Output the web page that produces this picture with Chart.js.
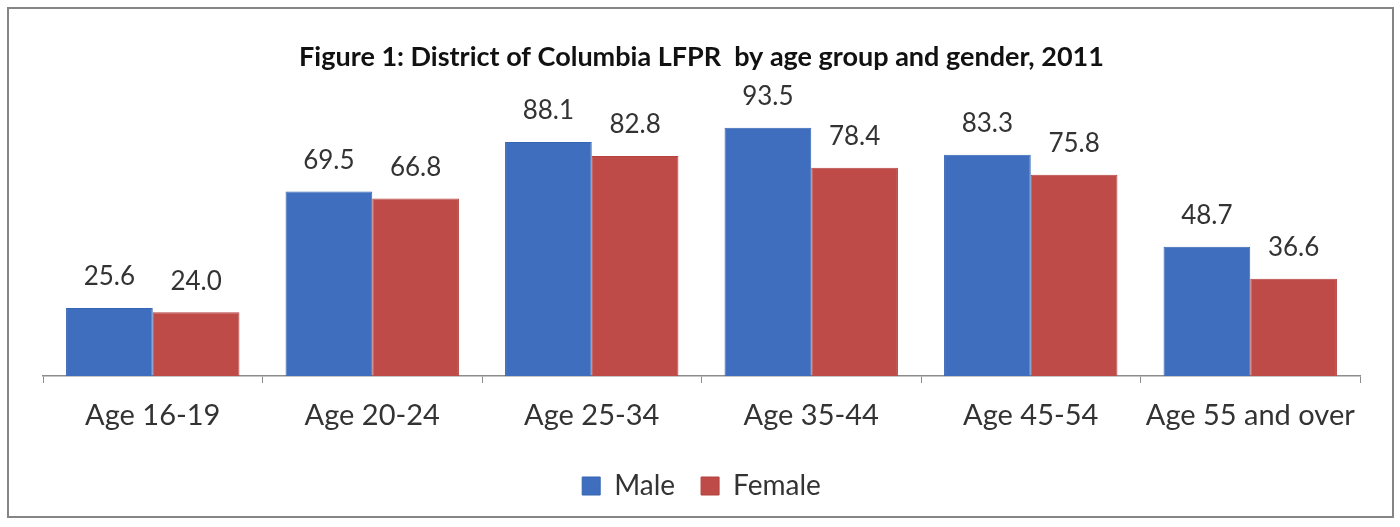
<!DOCTYPE html>
<html>
<head>
<meta charset="utf-8">
<title>District of Columbia LFPR by age group and gender, 2011</title>
<script src="https://cdn.jsdelivr.net/npm/chart.js@4/dist/chart.umd.min.js"></script>
<style>
  html, body { margin: 0; padding: 0; background: #fff; }
  #wrap { position: relative; width: 1400px; height: 527px; }
</style>
</head>
<body>
<div id="wrap"><canvas id="lfpr"></canvas></div>
<script>
const ageGroups   = ["Age 16-19", "Age 20-24", "Age 25-34", "Age 35-44", "Age 45-54", "Age 55 and over"]
const maleRates   = [25.6, 69.5, 88.1, 93.5, 83.3, 48.7]
const femaleRates = [24.0, 66.8, 82.8, 78.4, 75.8, 36.6]

const blue  = "#3F6EBF"
const red   = "#BF4B48"
const axisColor = "#8C8C8C"
const textColor = "#333333"
const fontFamily = "Lato, 'Open Sans', sans-serif"

// value printed above each bar
const barLabels = {
  id: "barLabels",
  afterDatasetsDraw(chart) {
    const { ctx } = chart
    ctx.save()
    ctx.font = `26px ${fontFamily}`
    ctx.fillStyle = textColor
    ctx.textAlign = "center"
    ctx.textBaseline = "middle"
    chart.data.datasets.forEach((ds, i) => {
      chart.getDatasetMeta(i).data.forEach((bar, j) => {
        ctx.fillText(ds.data[j].toFixed(1), bar.x, bar.y - 31)
      })
    })
    ctx.restore()
  }
}

// white page with a gray frame
const frame = {
  id: "frame",
  beforeDraw(chart) {
    const { ctx, width, height } = chart
    ctx.save()
    ctx.fillStyle = "#fff"
    ctx.fillRect(0, 0, width, height)
    ctx.restore()
  },
  afterDraw(chart) {
    const { ctx } = chart
    ctx.save()
    ctx.strokeStyle = "#858585"
    ctx.lineWidth = 2
    ctx.strokeRect(8, 8, 1385, 509)
    ctx.restore()
  }
}

new Chart(document.getElementById("lfpr"), {
  type: "bar",
  data: {
    labels: ageGroups,
    datasets: [
      {
        label: "Male",
        data: maleRates,
        backgroundColor: blue,
        borderColor: "#3565B3",
        borderWidth: 1,
        categoryPercentage: 0.79,
        barPercentage: 1.0
      },
      {
        label: "Female",
        data: femaleRates,
        backgroundColor: red,
        borderColor: "#B5423F",
        borderWidth: 1,
        categoryPercentage: 0.79,
        barPercentage: 1.0
      }
    ]
  },
  options: {
    responsive: true,
    maintainAspectRatio: false,
    animation: false,
    layout: { padding: { left: 43, right: 40, top: 0, bottom: 17 } },
    plugins: {
      title: {
        display: true,
        text: "Figure 1: District of Columbia LFPR  by age group and gender, 2011",
        color: "#111",
        font: { family: fontFamily, size: 27, weight: "bold", lineHeight: 1.2 },
        padding: { top: 41, bottom: 37 }
      },
      legend: {
        position: "bottom",
        labels: {
          color: textColor,
          font: { family: fontFamily, size: 28 },
          boxWidth: 18,
          boxHeight: 18,
          padding: 26
        }
      },
      tooltip: { enabled: false }
    },
    scales: {
      x: {
        grid: {
          offset: true,
          drawOnChartArea: false,
          drawTicks: true,
          tickLength: 7,
          color: axisColor
        },
        border: { color: axisColor, width: 1.5 },
        ticks: {
          color: textColor,
          font: { family: fontFamily, size: 29 },
          padding: 15,
          maxRotation: 0
        },
        afterFit: scale => { scale.height = 70 }
      },
      y: {
        display: false,
        min: 0,
        max: 100
      }
    }
  },
  plugins: [barLabels, frame]
})
</script>
</body>
</html>
